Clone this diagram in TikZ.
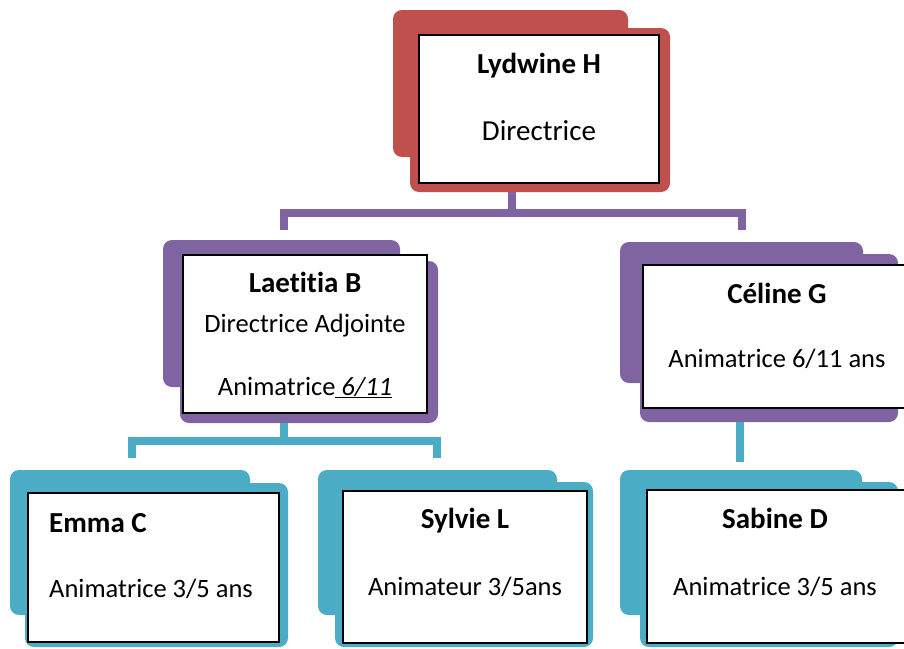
\documentclass[tikz,border=0pt]{standalone}
\usepackage{fontspec}
\setmainfont[Ligatures={NoCommon}]{Carlito}
\definecolor{cred}{HTML}{C0504D}
\definecolor{cpur}{HTML}{8064A2}
\definecolor{cteal}{HTML}{4BACC6}
\begin{document}
\begin{tikzpicture}[x=1pt,y=-1pt,
  card/.style={rounded corners=9pt, inner sep=0pt, outer sep=0pt, anchor=north west, draw=none, shape=rectangle},
  wbox/.style={draw=black, line width=1.1pt, fill=white, inner sep=0pt, outer sep=0pt, anchor=north west},
  nametext/.style={font=\fontsize{29}{33}\selectfont\bfseries, anchor=base, inner sep=0pt},
  roletext/.style={font=\fontsize{26.5}{30}\selectfont, anchor=base, inner sep=0pt},
  bigrole/.style={font=\fontsize{29}{33}\selectfont, anchor=base, inner sep=0pt},
  conn/.style={line width=8pt}
]
\fill[white] (0,0) rectangle (904,648);
\useasboundingbox (0,0) rectangle (904,648);

% junction coordinates
\coordinate (pj) at (512,213);
\coordinate (p1) at (284,230);
\coordinate (p2) at (742,230);
\coordinate (tj) at (284,441);
\coordinate (t1) at (132,458);
\coordinate (t2) at (437,458);
\coordinate (c1) at (740,462);

% Lydwine
\node[card, fill=cred, minimum width=235pt, minimum height=147pt] (lydB) at (393,10) {};
\node[card, fill=cred, minimum width=260pt, minimum height=164pt] (lydF) at (410,28) {};
\node[wbox, minimum width=240pt, minimum height=148pt] (lydW) at (419,35) {};

% Laetitia
\node[card, fill=cpur, minimum width=237pt, minimum height=147pt] (laeB) at (163,240) {};
\node[card, fill=cpur, minimum width=258pt, minimum height=162pt] (laeF) at (180,261) {};
\node[wbox, minimum width=244pt, minimum height=158pt] (laeW) at (183,255) {};

% Celine
\node[card, fill=cpur, minimum width=243pt, minimum height=141pt] (celB) at (620,242) {};
\node[card, fill=cpur, minimum width=258pt, minimum height=168pt] (celF) at (640,254) {};
\node[wbox, minimum width=265pt, minimum height=143pt] (celW) at (643,265) {};

% Emma
\node[card, fill=cteal, minimum width=240pt, minimum height=145pt] (emmB) at (10,470) {};
\node[card, fill=cteal, minimum width=263pt, minimum height=164pt] (emmF) at (25,483) {};
\node[wbox, minimum width=251pt, minimum height=149pt] (emmW) at (28,493) {};

% Sylvie
\node[card, fill=cteal, minimum width=239pt, minimum height=145pt] (sylB) at (318,470) {};
\node[card, fill=cteal, minimum width=258pt, minimum height=165pt] (sylF) at (335,482) {};
\node[wbox, minimum width=244pt, minimum height=152pt] (sylW) at (343,491) {};

% Sabine
\node[card, fill=cteal, minimum width=242pt, minimum height=145pt] (sabB) at (620,470) {};
\node[card, fill=cteal, minimum width=258pt, minimum height=165pt] (sabF) at (640,482) {};
\node[wbox, minimum width=262pt, minimum height=153pt] (sabW) at (647,490) {};

% connectors
\draw[conn, cpur] (pj |- lydF.south) -- (pj);
\draw[conn, cpur] (p1) -- (p1 |- pj) -- (p2 |- pj) -- (p2);
\draw[conn, cteal] (tj |- laeF.south) -- (tj);
\draw[conn, cteal] (t1) -- (t1 |- tj) -- (t2 |- tj) -- (t2);
\draw[conn, cteal] (c1 |- celF.south) -- (c1);

% texts
\node[nametext] (lydN) at (539,73) {Lydwine H};
\node[bigrole] (lydR) at (539,140) {Directrice};
\node[nametext] (laeN) at (305,292) {Laetitia B};
\node[roletext] (laeR) at (305,332) {Directrice Adjointe};
\node[roletext] (laeR2) at (305,395) {Animatrice\underline{\textit{\ 6/11}}};
\node[nametext] (celN) at (777,303) {Céline G};
\node[roletext] (celR) at (777,367) {Animatrice 6/11 ans};
\node[nametext, anchor=base west] (emmN) at (49,532) {Emma C};
\node[roletext, anchor=base west] (emmR) at (49,597) {Animatrice 3/5 ans};
\node[nametext] (sylN) at (465,528) {Sylvie L};
\node[roletext] (sylR) at (465,595) {Animateur 3/5ans};
\node[nametext] (sabN) at (775,528) {Sabine D};
\node[roletext] (sabR) at (775,595) {Animatrice 3/5 ans};
\end{tikzpicture}
\end{document}
